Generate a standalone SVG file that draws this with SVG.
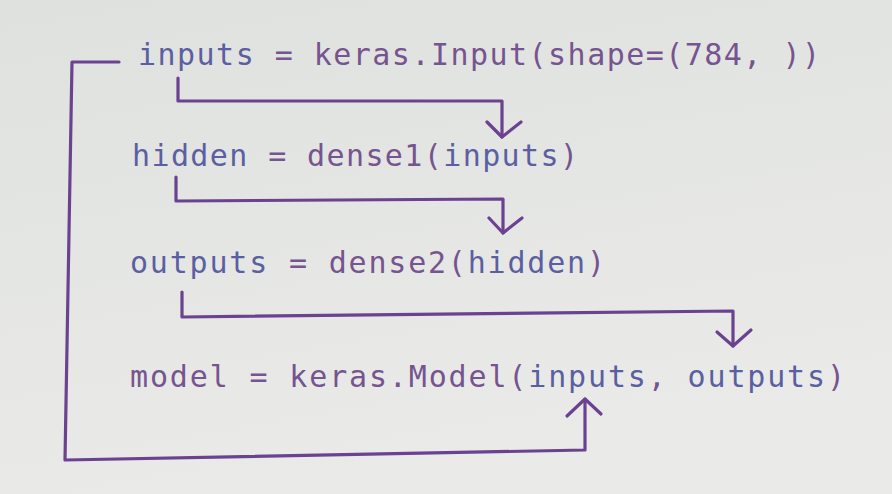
<svg xmlns="http://www.w3.org/2000/svg" width="892" height="494" viewBox="0 0 892 494">
  <defs>
    <linearGradient id="bg" x1="0" y1="0" x2="0.3" y2="1">
      <stop offset="0" stop-color="#dfe1de"/>
      <stop offset="1" stop-color="#eaebe8"/>
    </linearGradient>
    <style>
      .code { font-family: "DejaVu Sans Mono", "Liberation Mono", monospace; font-size: 30px; fill: #765490; }
      .var { fill: #5b5fa2; }
      .wire { fill: none; stroke: #6a4290; stroke-width: 3.2; stroke-linecap: round; stroke-linejoin: round; }
    </style>
  </defs>
  <rect width="892" height="494" fill="url(#bg)"/>

  <g id="line-inputs">
    <text class="code" x="138" y="65" textLength="682" lengthAdjust="spacing"><tspan class="var">inputs</tspan> = keras.Input(shape=(784, ))</text>
  </g>
  <g id="line-hidden">
    <text class="code" x="132" y="166" textLength="446" lengthAdjust="spacing"><tspan class="var">hidden</tspan> = dense1(<tspan class="var">inputs</tspan>)</text>
  </g>
  <g id="line-outputs">
    <text class="code" x="130" y="273" textLength="475" lengthAdjust="spacing"><tspan class="var">outputs</tspan> = dense2(<tspan class="var">hidden</tspan>)</text>
  </g>
  <g id="line-model">
    <text class="code" x="130" y="387" textLength="715" lengthAdjust="spacing">model = keras.Model(<tspan class="var">inputs</tspan>, <tspan class="var">outputs</tspan>)</text>
  </g>

  <g id="connectors">
    <!-- inputs -> dense1(inputs) -->
    <polyline class="wire" points="178,78 178,101 502,101 502,137"/>
    <polyline class="wire" points="487,122 502,137 521,122"/>
    <!-- hidden -> dense2(hidden) -->
    <polyline class="wire" points="176,177 176,201 503,199 503,233"/>
    <polyline class="wire" points="489,218 503,233 522,218"/>
    <!-- outputs -> Model(..., outputs) -->
    <polyline class="wire" points="182,292 182,317 733,311 733,346"/>
    <polyline class="wire" points="717,332 733,346 751,330"/>
    <!-- inputs -> Model(inputs, ...) -->
    <polyline class="wire" points="119,62 72,62 65,460 585,450 585,399"/>
    <polyline class="wire" points="567,416 585,399 601,414"/>
  </g>
</svg>
